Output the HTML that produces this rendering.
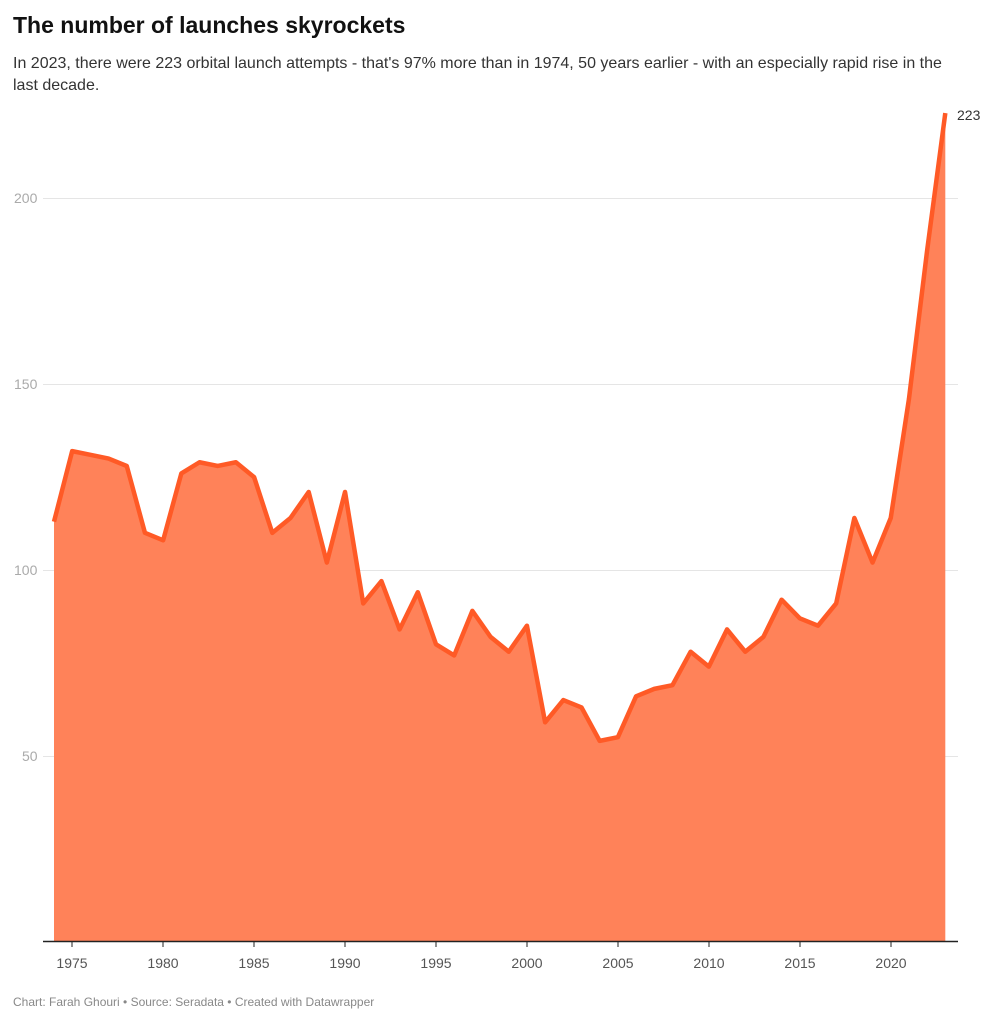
<!DOCTYPE html>
<html><head><meta charset="utf-8"><style>
body{margin:0;background:#fff;font-family:"Liberation Sans",Arial,sans-serif;}
.wrap{position:relative;width:1005px;height:1024px;overflow:hidden}
h1{position:absolute;left:13px;top:12px;margin:0;font-size:23px;font-weight:bold;color:#111}
.sub{position:absolute;left:13px;top:53px;width:958px;font-size:16px;line-height:22px;color:#333}
.foot{position:absolute;left:13px;top:995px;font-size:12px;color:#888}
svg{position:absolute;left:0;top:0}
</style></head><body><div class="wrap">
<h1>The number of launches skyrockets</h1>
<div class="sub">In 2023, there were 223 orbital launch attempts - that's 97% more than in 1974, 50 years earlier - with an especially rapid rise in the last decade.</div>
<svg width="1005" height="1024" font-family="Liberation Sans, Arial, sans-serif">
<g stroke="#e5e5e5" stroke-width="1">
<line x1="43" x2="958" y1="198.5" y2="198.5"/><line x1="43" x2="958" y1="384.5" y2="384.5"/>
<line x1="43" x2="958" y1="570.5" y2="570.5"/><line x1="43" x2="958" y1="756.5" y2="756.5"/>
</g>
<g fill="#aaa" font-size="14">
<text x="14" y="203">200</text><text x="14" y="389">150</text><text x="14" y="575">100</text><text x="22" y="761">50</text>
</g>
<g transform="translate(54,941.5) scale(18.19,-3.715)">
<polygon fill="#ff8259" points="0,0 0,113 1,132 2,131 3,130 4,128 5,110 6,108 7,126 8,129 9,128 10,129 11,125 12,110 13,114 14,121 15,102 16,121 17,91 18,97 19,84 20,94 21,80 22,77 23,89 24,82 25,78 26,85 27,59 28,65 29,63 30,54 31,55 32,66 33,68 34,69 35,78 36,74 37,84 38,78 39,82 40,92 41,87 42,85 43,91 44,114 45,102 46,114 47,146 48,186 49,223 49,0"/>
<polyline fill="none" stroke="#ff5a26" stroke-width="4.5" stroke-linejoin="round" vector-effect="non-scaling-stroke" points="0,113 1,132 2,131 3,130 4,128 5,110 6,108 7,126 8,129 9,128 10,129 11,125 12,110 13,114 14,121 15,102 16,121 17,91 18,97 19,84 20,94 21,80 22,77 23,89 24,82 25,78 26,85 27,59 28,65 29,63 30,54 31,55 32,66 33,68 34,69 35,78 36,74 37,84 38,78 39,82 40,92 41,87 42,85 43,91 44,114 45,102 46,114 47,146 48,186 49,223"/>
</g>
<line x1="43" x2="958" y1="941.5" y2="941.5" stroke="#222" stroke-width="1.5"/>
<g stroke="#222" stroke-width="1">
<line x1="72" x2="72" y1="941" y2="947"/><line x1="163" x2="163" y1="941" y2="947"/><line x1="254" x2="254" y1="941" y2="947"/><line x1="345" x2="345" y1="941" y2="947"/><line x1="436" x2="436" y1="941" y2="947"/><line x1="527" x2="527" y1="941" y2="947"/><line x1="618" x2="618" y1="941" y2="947"/><line x1="709" x2="709" y1="941" y2="947"/><line x1="800" x2="800" y1="941" y2="947"/><line x1="891" x2="891" y1="941" y2="947"/>
</g>
<g fill="#555" font-size="14" text-anchor="middle">
<text x="72" y="968">1975</text><text x="163" y="968">1980</text><text x="254" y="968">1985</text><text x="345" y="968">1990</text><text x="436" y="968">1995</text><text x="527" y="968">2000</text><text x="618" y="968">2005</text><text x="709" y="968">2010</text><text x="800" y="968">2015</text><text x="891" y="968">2020</text>
</g>
<text x="957" y="120" font-size="14" fill="#333">223</text>
</svg>
<div class="foot">Chart: Farah Ghouri • Source: Seradata • Created with Datawrapper</div>
</div></body></html>
